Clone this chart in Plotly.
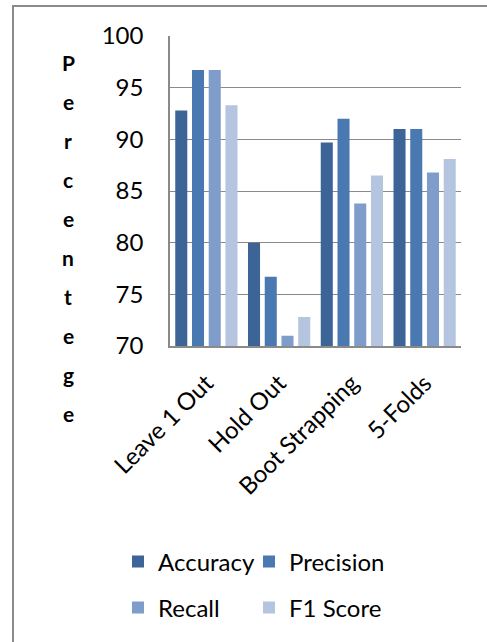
import plotly.graph_objects as go

categories = ["Leave 1 Out", "Hold Out", "Boot Strapping", "5-Folds"]
series_names = ["Accuracy", "Precision", "Recall", "F1 Score"]
accuracy = [92.8, 80.0, 89.7, 91.0]
precision = [96.7, 76.7, 92.0, 91.0]
recall = [96.7, 71.0, 83.8, 86.8]
f1_score = [93.3, 72.8, 86.5, 88.1]
y_ticks = [70, 75, 80, 85, 90, 95, 100]
axis_title = "Percentege"

colors = ["#3c6497", "#4a79b1", "#7e9dca", "#b5c5df"]
values = [accuracy, precision, recall, f1_score]
legend_ids = ["legend", "legend2", "legend3", "legend4"]
# legend item positions (pixel x of legend box left, pixel y of row centre)
legend_pos = [(118, 562), (249, 562), (118, 608), (249, 608)]

W, H = 487, 642
L, R, T, B = 170, 26, 36, 296
pw, ph = W - L - R, H - T - B

def px(x):
    return (x - L) / pw

def py(y):
    return (H - B - y) / ph

FONT = "Lato"

fig = go.Figure()
for name, vals, col, lg in zip(series_names, values, colors, legend_ids):
    fig.add_trace(go.Bar(
        x=categories, y=vals, name=name, marker_color=col,
        marker_line_width=0, legend=lg,
    ))

# vertical axis title, one letter per line
for i, ch in enumerate(axis_title):
    fig.add_annotation(
        text="<b>%s</b>" % ch, xref="paper", yref="paper",
        x=px(68), y=py(62 + 39 * i), showarrow=False,
        font=dict(family=FONT, size=21, color="#000"),
        xanchor="center", yanchor="middle",
    )

# outer border
fig.add_shape(type="rect", xref="paper", yref="paper",
              x0=px(13), x1=px(492), y0=py(6), y1=py(660),
              line=dict(color="#8a8a8a", width=2), layer="below")

legend_common = dict(
    orientation="h", xref="paper", yref="paper", xanchor="left", yanchor="middle",
    font=dict(family=FONT, size=24, color="#000"),
    bgcolor="rgba(0,0,0,0)", itemwidth=30,
    itemclick=False, itemdoubleclick=False,
)
legend_layout = {}
for lg, (lx, ly) in zip(legend_ids, legend_pos):
    legend_layout[lg] = dict(x=px(lx), y=py(ly), **legend_common)

fig.update_layout(
    width=W, height=H,
    margin=dict(l=L, r=R, t=T, b=B, autoexpand=False),
    paper_bgcolor="white", plot_bgcolor="white",
    barmode="group", bargap=0.08, bargroupgap=0.28,
    showlegend=True,
    font=dict(family=FONT, size=24, color="#000"),
    xaxis=dict(
        tickangle=-45, showline=True, linecolor="#8a8a8a", linewidth=1.5,
        ticks="", tickfont=dict(family=FONT, size=24, color="#000"),
        ticklabelstandoff=12,
        showgrid=False, fixedrange=True,
    ),
    yaxis=dict(
        range=[70, 100], tickvals=y_ticks, showgrid=True, gridcolor="#8a8a8a",
        gridwidth=1, showline=True, linecolor="#8a8a8a", linewidth=1.5,
        ticks="", ticklabelstandoff=20, zeroline=False,
        tickfont=dict(family=FONT, size=24, color="#000"), fixedrange=True,
    ),
    **legend_layout,
)

fig.write_html("out.html")
